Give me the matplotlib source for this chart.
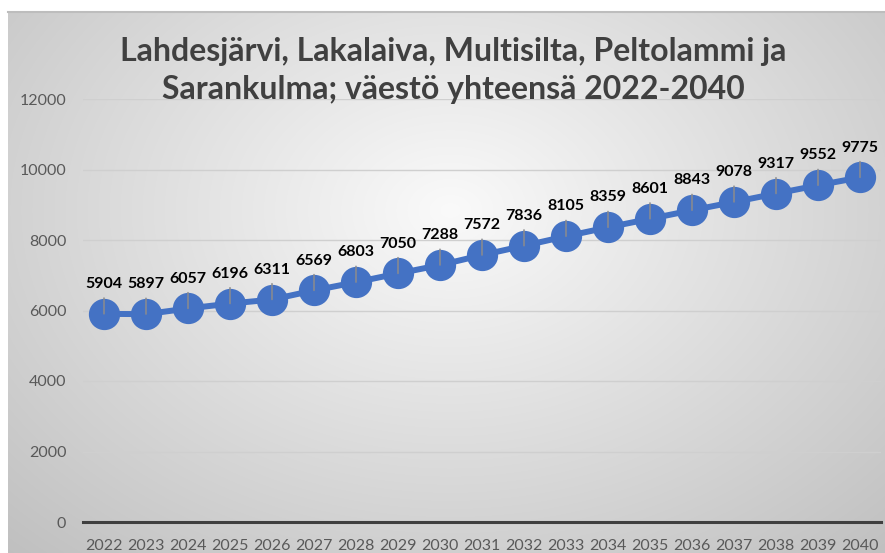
import numpy as np
import matplotlib
matplotlib.use('Agg')
import matplotlib.pyplot as plt

# dati
vuodet = ['2022', '2023', '2024', '2025', '2026', '2027', '2028', '2029', '2030', '2031',
          '2032', '2033', '2034', '2035', '2036', '2037', '2038', '2039', '2040']
vaesto = [5904, 5897, 6057, 6196, 6311, 6569, 6803, 7050, 7288, 7572,
          7836, 8105, 8359, 8601, 8843, 9078, 9317, 9552, 9775]
y_ticks = [0, 2000, 4000, 6000, 8000, 10000, 12000]
otsikko1 = 'Lahdesjärvi, Lakalaiva, Multisilta, Peltolammi ja'
otsikko2 = 'Sarankulma; väestö yhteensä 2022-2040'

W, H = 885, 553
fig = plt.figure(figsize=(W / 100, H / 100), dpi=100)
fig.patch.set_facecolor('white')

# sfondo con gradiente radiale
bg = fig.add_axes([8 / W, 0, 1 - 8 / W, (H - 12) / H], zorder=0)
gx, gy = np.meshgrid(np.arange(8, W), np.arange(12, H))
r = np.sqrt(((gx - 450) / 450.0) ** 2 + ((gy - 210) / 330.0) ** 2)
val = np.clip(0.98 - 0.16 * r, 0, 1)
bg.imshow(np.dstack([val, val, val]), aspect='auto', interpolation='bilinear')
bg.set_xticks([])
bg.set_yticks([])
for s in ['right', 'bottom', 'left']:
    bg.spines[s].set_visible(False)
bg.spines['top'].set_color('#bdbdbd')
bg.spines['top'].set_linewidth(1.5)

# grafico
ax = fig.add_axes([83 / W, (H - 522) / H, (881 - 83) / W, (522 - 99) / H], zorder=1)
ax.patch.set_alpha(0)
x = np.arange(len(vuodet))

ax.plot(x, vaesto, color='#4472C4', linewidth=4.3, marker='o', markersize=21.5,
        markeredgecolor='#4472C4', zorder=3, clip_on=False)

for i, v in enumerate(vaesto):
    ax.annotate(str(v), xy=(i, v), xytext=(0, 21.5), textcoords='offset points',
                ha='center', va='center', fontsize=11.5, fontweight='bold',
                family='Lato', color='black', zorder=5,
                arrowprops=dict(arrowstyle='-', color='#8c8c8c', lw=1.1,
                                shrinkA=3, shrinkB=0))

ax.set_xlim(-0.5, len(vuodet) - 0.5)
ax.set_ylim(0, 12000)
ax.set_yticks(y_ticks)
ax.set_xticks(x)
ax.set_xticklabels(vuodet)
ax.tick_params(axis='both', length=0, labelsize=11.5, labelcolor='#595959')
ax.tick_params(axis='y', pad=12)
ax.tick_params(axis='x', pad=12.5)
for lab in ax.get_xticklabels() + ax.get_yticklabels():
    lab.set_family('Lato')
ax.grid(axis='y', color='#cfcfcf', linewidth=1)
ax.set_axisbelow(True)
for s in ['top', 'right', 'left']:
    ax.spines[s].set_visible(False)
ax.spines['bottom'].set_color('#3f3f3f')
ax.spines['bottom'].set_linewidth(2.2)
ax.spines['bottom'].set_zorder(2)

# titolo
fig.text(453 / W, 1 - 61 / H, otsikko1, ha='center', va='baseline', fontsize=23,
         fontweight='bold', family='Lato', color='#404040')
fig.text(453 / W, 1 - 99 / H, otsikko2, ha='center', va='baseline', fontsize=23,
         fontweight='bold', family='Lato', color='#404040')

fig.savefig('out.png', dpi=100)
